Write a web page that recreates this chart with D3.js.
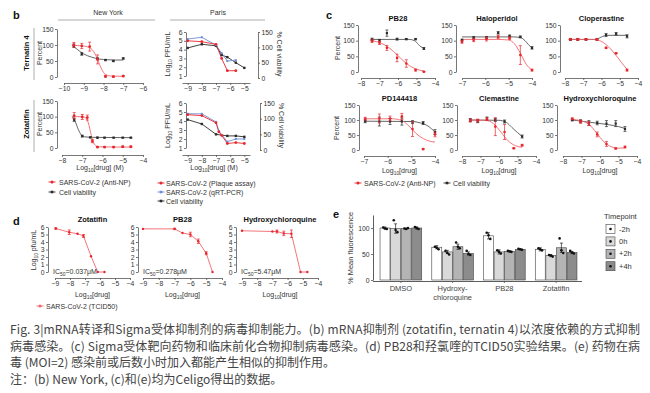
<!DOCTYPE html>
<html>
<head>
<meta charset="utf-8">
<script src="https://cdn.jsdelivr.net/npm/d3@7"></script>
<style>
  body { margin: 0; background: #fff; }
</style>
</head>
<body>
<div id="fig"></div>
<script>
// ---------- data ----------
// each point: [log10 dose, value, error]

// b, New York, Ternatin 4 (% of control)
const nyTernVirus = [[-9.5,100,8],[-9.1,97,8],[-8.7,95,14],[-8.3,55,14],[-7.9,2,3],[-7.5,1,2],[-7.0,3,2]];
const nyTernVirusFit = [[-9.6,99],[-9.2,98],[-8.8,94],[-8.5,80],[-8.3,55],[-8.1,25],[-7.9,8],[-7.6,3],[-7.0,2]];
const nyTernCell = [[-9.5,98,5],[-9.1,72,4],[-8.3,57,3],[-7.9,53,2],[-7.5,50,2],[-7.0,58,2]];
const nyTernCellFit = [[-9.6,99],[-9.3,85],[-9.0,72],[-8.6,62],[-8.2,56],[-7.8,54],[-7.4,53],[-7.0,53]];

// b, New York, Zotatifin
const nyZotVirus = [[-7.4,103,10],[-7.0,99,8],[-6.75,97,8],[-6.5,22,5],[-6.25,3,2],[-5.9,3,2],[-5.45,3,2],[-5.0,4,2],[-4.6,4,2]];
const nyZotVirusFit = [[-7.5,100],[-7.0,100],[-6.85,97],[-6.7,80],[-6.55,40],[-6.4,12],[-6.2,4],[-5.5,3],[-4.6,3]];
const nyZotCell = [[-7.4,90,5],[-7.0,38,3],[-6.6,34,2],[-6.25,33,2],[-5.9,33,1],[-5.45,33,1],[-5.0,33,1],[-4.6,33,1]];
const nyZotCellFit = [[-7.5,100],[-7.35,85],[-7.2,60],[-7.05,42],[-6.9,36],[-6.5,34],[-4.6,33]];

// b, Paris (log10 PFU/mL and % cell viability)
const paTernPlaque = [[-9,5.0],[-8,4.9],[-7,4.6],[-6.6,3.0],[-6.2,1.6],[-5.6,1.6]];
const paTernPcr = [[-9,5.2],[-8,5.4],[-7,4.5],[-6.6,3.6],[-6.2,2.7],[-5.6,2.8]];
const paTernCell = [[-9,98],[-8,110],[-7,105],[-6.6,75],[-6.2,68],[-5.6,50],[-5,33]];
const paZotPlaque = [[-9,4.7],[-8,4.6],[-7,3.8],[-6.8,2.8],[-6.6,2.4],[-6.2,1.5],[-5.6,1.6],[-5,1.5]];
const paZotPcr = [[-9,4.8],[-8,4.8],[-7,3.9],[-6.8,2.9],[-6.2,1.7],[-5.6,2.0],[-5,2.0]];
const paZotCell = [[-9,97],[-8,83],[-7,50],[-6.2,45],[-5.6,45],[-5,42]];

// c, sigma receptor ligands (% of control)
const cTitles = ["PB28", "Haloperidol", "Cloperastine", "PD144418", "Clemastine", "Hydroxychloroquine"];
const cVirus = [
  [[-7.4,99,5],[-7.0,93,5],[-6.6,77,8],[-6.05,45,12],[-5.55,27,12],[-5.05,6,3],[-4.6,1,1]],
  [[-7,96,4],[-6.5,102,5],[-5.95,105,6],[-5.45,112,5],[-4.96,108,4],[-4.5,54,30],[-4.0,6,3]],
  [[-7.7,104,3],[-7.3,104,3],[-6.85,104,2],[-6.25,104,2],[-5.75,77,2],[-5.2,60,2],[-4.6,6,3]],
  [[-6.95,104,5],[-6.35,105,15],[-5.9,105,8],[-5.4,112,10],[-4.95,70,25],[-4.5,3,2],[-4.0,52,8]],
  [[-7.55,98,5],[-7.15,98,5],[-6.65,103,5],[-6.2,78,30],[-5.7,60,25],[-5.2,6,2],[-4.75,16,3]],
  [[-7.5,104,3],[-7.05,94,5],[-6.6,88,6],[-6.15,52,8],[-5.65,20,8],[-5.15,5,2],[-4.65,10,3]]
];
const cVirusFit = [
  [[-7.5,100],[-7,94],[-6.5,78],[-6,52],[-5.5,25],[-5,9],[-4.6,3]],
  [[-7,104],[-5.5,104],[-5,102],[-4.75,90],[-4.5,60],[-4.25,25],[-4,6]],
  [[-7.8,104],[-6.5,104],[-6.1,100],[-5.7,85],[-5.3,60],[-4.9,30],[-4.6,8]],
  [[-7,104],[-5.8,104],[-5.4,98],[-5.1,80],[-4.8,55],[-4.5,38],[-4.2,29],[-4,26]],
  [[-7.6,100],[-6.7,99],[-6.3,88],[-5.9,60],[-5.5,30],[-5.1,14],[-4.75,9]],
  [[-7.5,102],[-7,97],[-6.6,86],[-6.2,58],[-5.8,28],[-5.4,11],[-5,6],[-4.65,7]]
];
const cCell = [
  [[-7.4,104,4],[-7.0,101,3],[-6.6,124,10],[-6.05,105,3],[-5.55,105,2],[-5.05,105,2],[-4.6,75,3]],
  [[-7,102,3],[-6.5,110,3],[-5.95,110,3],[-5.45,125,4],[-4.96,115,3],[-4.5,112,3],[-4.0,77,4]],
  [[-7.7,104,3],[-7.3,104,3],[-6.85,104,2],[-6.25,104,2],[-5.75,118,5],[-5.2,122,4],[-4.6,114,5]],
  [[-6.95,96,5],[-6.35,95,15],[-5.9,95,10],[-5.4,95,12],[-4.95,93,5],[-4.5,90,5],[-4.0,60,8]],
  [[-7.55,100,5],[-7.15,96,5],[-6.65,105,5],[-6.2,100,5],[-5.7,95,5],[-4.75,45,5]],
  [[-7.5,100,3],[-7.05,96,5],[-6.6,90,8],[-6.15,90,6],[-5.65,88,10],[-5.15,88,10],[-4.65,70,8]]
];
const cCellFit = [
  [[-7.5,104],[-6,104],[-5.4,104],[-5.1,100],[-4.9,88],[-4.75,80],[-4.6,76]],
  [[-7,112],[-4.8,112],[-4.5,110],[-4.3,100],[-4.15,87],[-4,77]],
  [[-7.8,104],[-6.3,104],[-6.0,112],[-5.7,117],[-4.6,117]],
  [[-7,96],[-5,95],[-4.6,90],[-4.3,80],[-4,60]],
  [[-7.6,100],[-6,99],[-5.6,92],[-5.3,75],[-5,58],[-4.75,45]],
  [[-7.5,100],[-6.5,92],[-5.5,84],[-5,78],[-4.65,72]]
];
const cXTicks = [[-8,-7,-6,-5,-4],[-7,-6,-5,-4],[-8,-7,-6,-5,-4],[-7,-6,-5,-4],[-8,-7,-6,-5,-4],[-8,-7,-6,-5,-4]];

// d, TCID50 (log10 pfu/mL)
const dTitles = ["Zotatifin", "PB28", "Hydroxychloroquine"];
const dIC50 = ["=0.037μM", "=0.278μM", "=5.47μM"];
const dPoints = [
  [[-8.95,5.8,0.1],[-8.05,5.3,0.3],[-7.5,5.1,0],[-7.1,4.8,0.2],[-6.6,2.1,0],[-6.15,0,0],[-5.7,0,0]],
  [[-9,5.75,0],[-7,5.75,0.1],[-6.5,5.2,0],[-6,5.0,0.3],[-5.5,4.1,0.3],[-5,2.5,0.2],[-4.6,0,0]],
  [[-9,5.5,0],[-7,5.4,0],[-6.7,5.4,0.2],[-6.25,5.15,0.3],[-5.75,5.1,0.5],[-5.15,0,0],[-4.7,0,0]]
];

// e, timepoint of addition (% mean fluorescence)
const eCats = ["DMSO", "Hydroxychloroquine", "PB28", "Zotatifin"];
const eCatLabels = [["DMSO"], ["Hydroxy-", "chloroquine"], ["PB28"], ["Zotatifin"]];
const eTimes = ["-2h", "0h", "+2h", "+4h"];
const eMeans = [[100,99,99,100],[63,54,64,51],[85,54,55,59],[59,47,62,53]];
const eErr = [[2,9,1,2],[3,3,5,3],[6,4,1,1],[3,2,9,2]];
const eReps = [
  [[101,99,98],[115,96,92],[99,98,100],[102,100,98]],
  [[64,62,59],[56,52,49],[72,64,61],[56,50,48]],
  [[91,86,79],[57,54,51],[56,55,54],[60,59,58]],
  [[61,59,57],[48,47,45],[80,57,52],[56,53,51]]
];
const eFills = ["#ffffff", "#d9d9d9", "#b4b4b4", "#8c8c8c"];

// caption
const captionLines = [
  "Fig. 3|mRNA转译和Sigma受体抑制剂的病毒抑制能力。(b) mRNA抑制剂 (zotatifin, ternatin 4)以浓度依赖的方式抑制",
  "病毒感染。(c) Sigma受体靶向药物和临床前化合物抑制病毒感染。(d) PB28和羟氯喹的TCID50实验结果。(e) 药物在病",
  "毒 (MOI=2) 感染前或后数小时加入都能产生相似的抑制作用。",
  "注：(b) New York, (c)和(e)均为Celigo得出的数据。"
];

// ---------- drawing ----------
const FONT = "Liberation Sans, Arial, Helvetica, sans-serif";
const RED = "#e8262d", REDLINE = "#f0666b", BLUE = "#6f8fd6", BLACK = "#2b2b2b", AX = "#555";
const fmt = d3.format("d");

const svg = d3.select("#fig").append("svg")
  .attr("width", 650).attr("height", 393).style("display", "block");

// text helper: parts starting with "_" are subscripts
function txt(x, y, parts, o = {}) {
  const t = svg.append("text").attr("x", x).attr("y", y)
    .attr("font-size", o.size || 7)
    .attr("fill", o.fill || "#333")
    .attr("text-anchor", o.anchor || "start")
    .attr("font-weight", o.bold ? "bold" : null)
    .attr("font-family", o.family || FONT);
  if (o.rotate) t.attr("transform", `rotate(${o.rotate},${x},${y})`);
  let down = false;
  [].concat(parts).forEach(p => {
    if (p.startsWith("_")) {
      t.append("tspan").attr("font-size", "0.7em").attr("dy", 1.8).text(p.slice(1));
      down = true;
    } else {
      t.append("tspan").attr("dy", down ? -1.8 : null).text(p);
      down = false;
    }
  });
  return t;
}

function styleAxis(g) {
  g.attr("font-size", 6.8).attr("font-family", FONT);
  g.select(".domain").attr("stroke", AX).attr("stroke-width", 0.8);
  g.selectAll(".tick line").attr("stroke", AX).attr("stroke-width", 0.8);
  g.selectAll(".tick text").attr("fill", "#333");
  return g;
}
function leftAxis(x0, y, ticks) {
  return styleAxis(svg.append("g").attr("transform", `translate(${x0},0)`)
    .call(d3.axisLeft(y).tickValues(ticks).tickFormat(fmt).tickSize(2).tickSizeOuter(0).tickPadding(1.5)));
}
function rightAxis(x0, y, ticks) {
  return styleAxis(svg.append("g").attr("transform", `translate(${x0},0)`)
    .call(d3.axisRight(y).tickValues(ticks).tickFormat(fmt).tickSize(2).tickSizeOuter(0).tickPadding(1.5)));
}
function bottomAxis(y0, x, ticks) {
  return styleAxis(svg.append("g").attr("transform", `translate(0,${y0})`)
    .call(d3.axisBottom(x).tickValues(ticks).tickFormat(fmt).tickSize(2).tickSizeOuter(0).tickPadding(1.2)));
}

function drawLine(x, y, data, color, w, smooth) {
  svg.append("path").datum(data)
    .attr("fill", "none").attr("stroke", color).attr("stroke-width", w || 0.9)
    .attr("d", d3.line().x(d => x(d[0])).y(d => y(d[1]))
      .curve(smooth ? d3.curveMonotoneX : d3.curveLinear));
}

function drawPts(x, y, pts, color, shape, r) {
  const g = svg.append("g");
  r = r || 1.4;
  pts.forEach(d => {
    const cx = x(d[0]), cy = y(d[1]);
    if (d[2]) {
      const y0 = y(d[1] - d[2]), y1 = y(d[1] + d[2]);
      g.append("line").attr("x1", cx).attr("x2", cx).attr("y1", y0).attr("y2", y1)
        .attr("stroke", color).attr("stroke-width", 0.7);
      [y0, y1].forEach(v => g.append("line").attr("x1", cx - 1.5).attr("x2", cx + 1.5)
        .attr("y1", v).attr("y2", v).attr("stroke", color).attr("stroke-width", 0.7));
    }
    if (shape === "sq") {
      g.append("rect").attr("x", cx - r).attr("y", cy - r).attr("width", 2 * r).attr("height", 2 * r)
        .attr("fill", color);
    } else {
      g.append("circle").attr("cx", cx).attr("cy", cy).attr("r", r).attr("fill", color);
    }
  });
}

function legendKey(x, y, color, shape) {
  svg.append("line").attr("x1", x - 3.5).attr("x2", x + 3.5).attr("y1", y).attr("y2", y)
    .attr("stroke", color).attr("stroke-width", 0.9);
  if (shape === "sq") svg.append("rect").attr("x", x - 1.3).attr("y", y - 1.3).attr("width", 2.6).attr("height", 2.6).attr("fill", color);
  else svg.append("circle").attr("cx", x).attr("cy", y).attr("r", 1.5).attr("fill", color);
}

// ===== panel b =====
txt(13, 19, "b", { size: 11, bold: true, fill: "#111" });
txt(108, 15, "New York", { anchor: "middle" });
svg.append("line").attr("x1", 58).attr("x2", 155).attr("y1", 20).attr("y2", 20).attr("stroke", "#999").attr("stroke-width", 0.8);
txt(218, 15, "Paris", { anchor: "middle" });
svg.append("line").attr("x1", 170).attr("x2", 265).attr("y1", 20).attr("y2", 20).attr("stroke", "#999").attr("stroke-width", 0.8);

// row labels
[["Ternatin 4", 53, 28, 80], ["Zotatifin", 124, 100, 152]].forEach(([name, cy, a, b]) => {
  txt(29, cy, name, { anchor: "middle", rotate: -90, bold: true, size: 7.5, fill: "#111" });
  svg.append("line").attr("x1", 34).attr("x2", 34).attr("y1", a).attr("y2", b).attr("stroke", "#999").attr("stroke-width", 0.8);
  txt(42, cy, "Percent", { anchor: "middle", rotate: -90 });
});

// New York, Ternatin 4
{
  const x = d3.scaleLinear().domain([-10, -6]).range([64, 143]);
  const y = d3.scaleLinear().domain([0, 150]).range([77, 29]);
  leftAxis(57, y, [0, 50, 100, 150]);
  bottomAxis(83, x, [-10, -9, -8, -7, -6]);
  drawLine(x, y, nyTernCellFit, "#555", 0.9, true);
  drawLine(x, y, nyTernVirusFit, REDLINE, 0.9, true);
  drawPts(x, y, nyTernCell, BLACK, "sq", 1.1);
  drawPts(x, y, nyTernVirus, RED, "c");
}
// New York, Zotatifin
{
  const x = d3.scaleLinear().domain([-8, -4]).range([62, 143]);
  const y = d3.scaleLinear().domain([0, 150]).range([148, 101]);
  leftAxis(57, y, [0, 50, 100, 150]);
  bottomAxis(155, x, [-8, -7, -6, -5, -4]);
  drawLine(x, y, nyZotCellFit, "#555", 0.9, true);
  drawLine(x, y, nyZotVirusFit, REDLINE, 0.9, true);
  drawPts(x, y, nyZotCell, BLACK, "sq", 1.1);
  drawPts(x, y, nyZotVirus, RED, "c");
  txt(100, 170, ["Log", "_10", "[drug] (M)"], { anchor: "middle" });
}
legendKey(52, 182, RED, "c");
txt(59, 184.5, "SARS-CoV-2 (Anti-NP)");
legendKey(52, 192, BLACK, "sq");
txt(59, 194.5, "Cell viability");

// Paris charts
function parisChart(top, bottom, rightX, plaque, pcr, cell) {
  const x = d3.scaleLinear().domain([-9.4, -4.6]).range([182, 250]);
  const yl = d3.scaleLinear().domain([1, 6]).range([bottom, top]);
  const yr = d3.scaleLinear().domain([0, 150]).range([bottom + 2, top]);
  leftAxis(186, yl, [1, 2, 3, 4, 5, 6]);
  rightAxis(rightX, yr, [0, 50, 100, 150]);
  bottomAxis(bottom + 7, x, [-9, -8, -7, -6, -5]);
  drawLine(x, yr, cell, BLACK, 0.9);
  drawLine(x, yl, pcr, BLUE, 0.9);
  drawLine(x, yl, plaque, RED, 0.9);
  drawPts(x, yr, cell, BLACK, "sq", 1.2);
  drawPts(x, yl, pcr, BLUE, "sq", 1.0);
  drawPts(x, yl, plaque, RED, "c", 1.4);
  txt(170, (top + bottom) / 2, ["Log", "_10", " PFU/mL"], { anchor: "middle", rotate: -90 });
  txt(rightX + 19, (top + bottom) / 2, "% Cell viability", { anchor: "middle", rotate: 90 });
}
parisChart(32, 76, 258, paTernPlaque, paTernPcr, paTernCell);
parisChart(103, 148, 260, paZotPlaque, paZotPcr, paZotCell);
txt(214, 170, ["Log", "_10", "[drug] (M)"], { anchor: "middle" });
legendKey(161, 183, RED, "c");
txt(166, 185.5, "SARS-CoV-2 (Plaque assay)");
legendKey(161, 192, BLUE, "sq");
txt(166, 194.5, "SARS-CoV-2 (qRT-PCR)");
legendKey(161, 201, BLACK, "sq");
txt(166, 203.5, "Cell viability");

// ===== panel c =====
txt(326, 19, "c", { size: 11, bold: true, fill: "#111" });
const cLayout = [
  // [yAxisX, xDomain, xRange, top, bottom]
  [358, [-8, -4], [361, 435], 25, 72],
  [456, [-7, -4], [462, 532], 25, 72],
  [560, [-8, -4], [565, 638], 25, 72],
  [359, [-7, -4], [364, 435], 105, 150],
  [457, [-8, -4], [462, 536], 105, 150],
  [557, [-8, -4], [563, 637], 105, 150]
];
cTitles.forEach((title, i) => {
  const [ax, dom, rng, top, bottom] = cLayout[i];
  const x = d3.scaleLinear().domain(dom).range(rng);
  const y = d3.scaleLinear().domain([0, 150]).range([bottom, top]);
  leftAxis(ax, y, [0, 50, 100, 150]);
  bottomAxis(bottom + 6, x, cXTicks[i]);
  drawLine(x, y, cCellFit[i], "#555", 0.9, true);
  drawLine(x, y, cVirusFit[i], REDLINE, 0.9, true);
  drawPts(x, y, cCell[i], BLACK, "sq", 1.1);
  drawPts(x, y, cVirus[i], RED, "c", 1.3);
  txt((rng[0] + rng[1]) / 2, top - 4, title, { anchor: "middle", bold: true, size: 7.5, fill: "#111" });
  if (i >= 3) txt((rng[0] + rng[1]) / 2, bottom + 23, ["Log", "_10", "[drug]"], { anchor: "middle" });
});
txt(340, 48, "Percent", { anchor: "middle", rotate: -90 });
txt(339, 128, "Percent", { anchor: "middle", rotate: -90 });
legendKey(358, 183, RED, "c");
txt(364, 185.5, "SARS-CoV-2 (Anti-NP)");
legendKey(447, 183, BLACK, "sq");
txt(453, 185.5, "Cell viability");

// ===== panel d =====
txt(13, 225, "d", { size: 11, bold: true, fill: "#111" });
const dLayout = [[48, [55, 130]], [138, [143, 222]], [236, [242, 318]]];
dTitles.forEach((title, i) => {
  const [ax, rng] = dLayout[i];
  const x = d3.scaleLinear().domain([-9, -4]).range(rng);
  const y = d3.scaleLinear().domain([0, 6]).range([272, 227]);
  leftAxis(ax, y, [0, 1, 2, 3, 4, 5, 6]);
  bottomAxis(278, x, [-9, -8, -7, -6, -5, -4]);
  drawLine(x, y, dPoints[i], REDLINE, 0.9);
  drawPts(x, y, dPoints[i], RED, "c", 1.2);
  txt((rng[0] + rng[1]) / 2, 222, title, { anchor: "middle", bold: true, size: 7.5, fill: "#111" });
  txt(ax + 5, 274, ["IC", "_50", dIC50[i]], { size: 7 });
  txt((rng[0] + rng[1]) / 2, 297, ["Log", "_10", "[drug]"], { anchor: "middle" });
});
txt(36, 250, ["Log", "_10", " pfu/mL"], { anchor: "middle", rotate: -90 });
legendKey(40, 306, REDLINE, "c");
txt(46, 308.5, "SARS-CoV-2 (TCID50)");

// ===== panel e =====
txt(333, 218, "e", { size: 11, bold: true, fill: "#111" });
{
  const x0 = d3.scaleBand().domain(eCats).range([375, 582]).paddingInner(0.17).paddingOuter(0.085);
  const x1 = d3.scaleBand().domain(eTimes).range([0, x0.bandwidth()]).padding(0.06);
  const y = d3.scaleLinear().domain([0, 125]).range([280, 215]);

  const ya = leftAxis(373, y, [0, 50, 100]);
  ya.select(".domain").attr("stroke", "#333");
  const xa = styleAxis(svg.append("g").attr("transform", "translate(0,281)")
    .call(d3.axisBottom(x0).tickSize(2).tickSizeOuter(0).tickFormat("")));
  xa.select(".domain").attr("d", "M373,0.5H582").attr("stroke", "#333");

  eCats.forEach((c, i) => {
    const gx = x0(c);
    eTimes.forEach((t, j) => {
      const bx = gx + x1(t), bw = x1.bandwidth(), cx = bx + bw / 2;
      svg.append("rect").attr("x", bx).attr("y", y(eMeans[i][j]))
        .attr("width", bw).attr("height", y(0) - y(eMeans[i][j]))
        .attr("fill", eFills[j]).attr("stroke", "#444").attr("stroke-width", 0.6);
      const e0 = y(eMeans[i][j] - eErr[i][j]), e1 = y(eMeans[i][j] + eErr[i][j]);
      svg.append("line").attr("x1", cx).attr("x2", cx).attr("y1", e0).attr("y2", e1).attr("stroke", "#222").attr("stroke-width", 0.7);
      [e0, e1].forEach(v => svg.append("line").attr("x1", cx - 1.5).attr("x2", cx + 1.5).attr("y1", v).attr("y2", v).attr("stroke", "#222").attr("stroke-width", 0.7));
      eReps[i][j].forEach((v, k) => {
        svg.append("circle").attr("cx", cx + (k - 1) * 1.8).attr("cy", y(v)).attr("r", 1.3).attr("fill", "#111");
      });
    });
    eCatLabels[i].forEach((s, k) => txt(gx + x0.bandwidth() / 2, 291 + k * 9, s, { anchor: "middle", size: 7.5, fill: "#444" }));
  });
  txt(353, 248, "% Mean fluorescence", { anchor: "middle", rotate: -90, size: 7.5 });

  txt(604, 219, "Timepoint", { size: 7.5 });
  eTimes.forEach((t, j) => {
    const ly = 229 + j * 12.4;
    svg.append("rect").attr("x", 606).attr("y", ly - 4.5).attr("width", 9).attr("height", 9)
      .attr("fill", eFills[j]).attr("stroke", "#444").attr("stroke-width", 0.6);
    svg.append("circle").attr("cx", 610.5).attr("cy", ly).attr("r", 1.3).attr("fill", "#111");
    txt(619, ly + 2.5, t, { size: 7.5 });
  });
}

// ===== caption =====
captionLines.forEach((s, i) => {
  const t = txt(10, 334 + i * 16.5, s, { size: 12, fill: "#444", family: "Noto Sans CJK SC, sans-serif" });
  if (i < 2) t.attr("textLength", 630).attr("lengthAdjust", "spacing");
});
</script>
</body>
</html>
